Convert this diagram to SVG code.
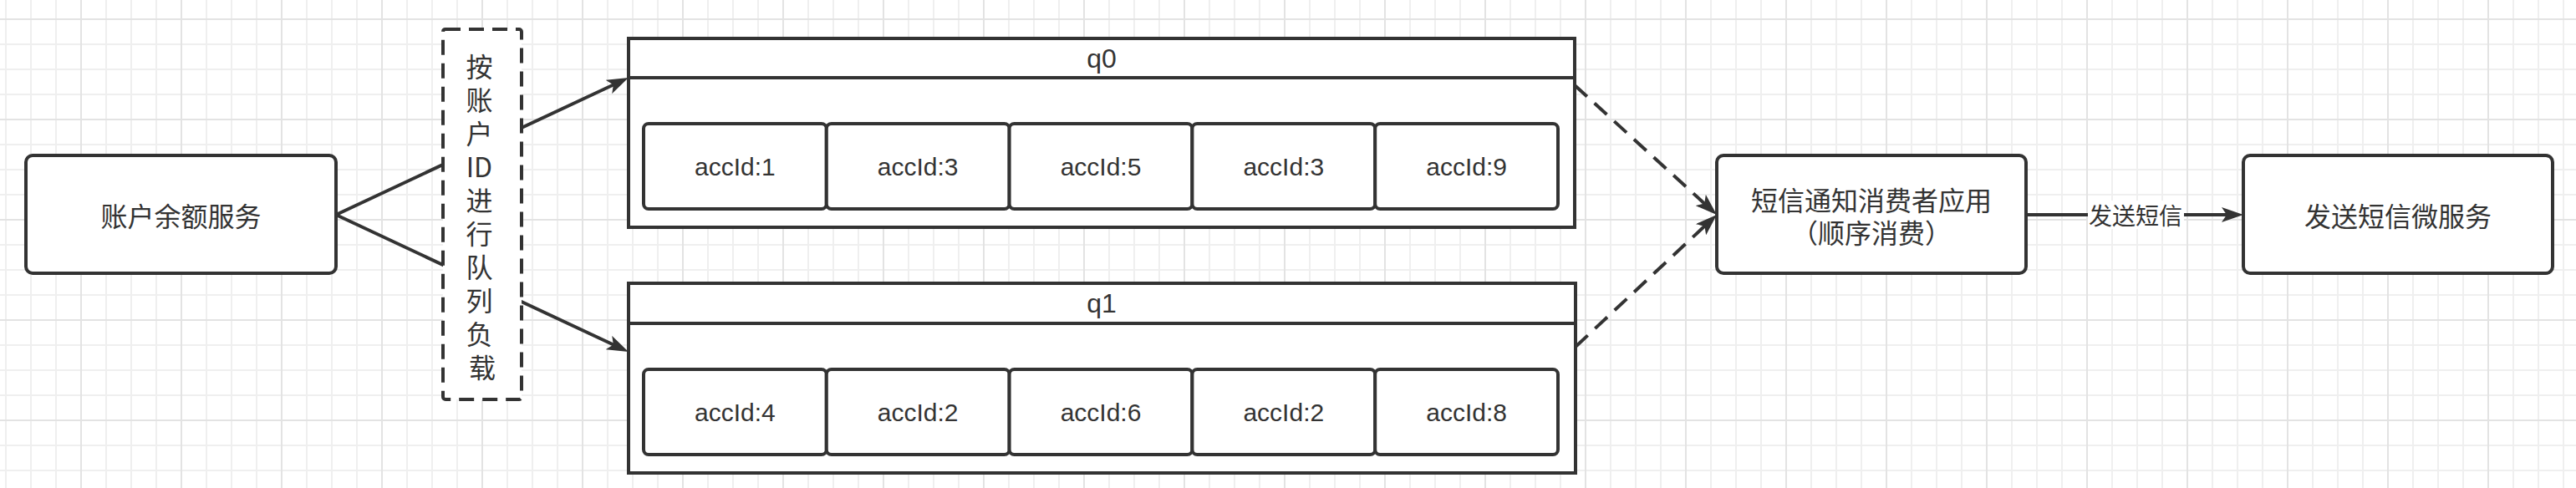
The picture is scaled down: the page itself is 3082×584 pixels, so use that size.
<svg xmlns="http://www.w3.org/2000/svg" width="3082" height="584" viewBox="0 0 3082 584">
<style>
.box{fill:#fff;stroke:#333;stroke-width:4}
.item{fill:#fff;stroke:#333;stroke-width:4}
.line{fill:none;stroke:#333;stroke-width:4}
.dash{stroke-dasharray:20 12}
.cjk{font-family:"Noto Sans CJK SC","Noto Sans",sans-serif;fill:#333;text-anchor:middle;dominant-baseline:central}
.lat{font-family:"Liberation Sans",Arial,sans-serif;fill:#333;text-anchor:middle;dominant-baseline:central}
</style>
<defs>
<pattern id="minor" patternUnits="userSpaceOnUse" x="6" y="22" width="30" height="30">
<rect x="0" y="0" width="2" height="30" fill="#efefef"/>
<rect x="0" y="0" width="30" height="2" fill="#efefef"/>
</pattern>
<pattern id="major" patternUnits="userSpaceOnUse" x="96" y="22" width="120" height="120">
<rect x="0" y="0" width="2" height="120" fill="#e3e3e3"/>
<rect x="0" y="0" width="120" height="2" fill="#e3e3e3"/>
</pattern>
<marker id="arr" viewBox="0 0 26 18" refX="16" refY="9" markerWidth="26" markerHeight="18" markerUnits="userSpaceOnUse" orient="auto">
<path d="M0,0 L26,9 L0,18 L6,9 Z" fill="#333"/>
</marker>
</defs>
<rect width="3082" height="584" fill="#fff"/>
<rect width="3082" height="584" fill="url(#minor)"/>
<rect width="3082" height="584" fill="url(#major)"/>

<g id="connectors">
<path class="line" d="M402,257 L742.9,97.2" marker-end="url(#arr)"/>
<path class="line" d="M402,257 L742.9,416.8" marker-end="url(#arr)"/>
<path class="line dash" d="M1884,102 L2046.6,250.3" marker-end="url(#arr)"/>
<path class="line dash" d="M1885,415 L2046.7,263.8" marker-end="url(#arr)"/>
<path class="line" d="M2424,257 L2674,257" marker-end="url(#arr)"/>
<rect x="2498" y="240" width="115" height="34" fill="#fff"/>
<text class="cjk" x="2555" y="257" font-size="28">发送短信</text>
</g>

<g id="account-service">
<rect class="box" x="31" y="186" width="371" height="141" rx="8"/>
<text class="cjk" x="216.5" y="256.5" font-size="32">账户余额服务</text>
</g>

<g id="load-balance">
<rect x="530" y="35" width="94" height="443" rx="3" fill="#fff" stroke="#333" stroke-width="4" stroke-dasharray="18 10"/>
<text class="cjk" font-size="32">
<tspan x="577" y="78">按</tspan>
<tspan x="577" y="118">账</tspan>
<tspan x="577" y="158">户</tspan>
<tspan x="577" y="198">ID</tspan>
<tspan x="577" y="238">进</tspan>
<tspan x="577" y="278">行</tspan>
<tspan x="577" y="318">队</tspan>
<tspan x="577" y="358">列</tspan>
<tspan x="577" y="398">负</tspan>
<tspan x="577" y="438">载</tspan>
</text>
</g>

<g id="q0">
<rect class="box" x="752" y="46" width="1132" height="226"/>
<line class="line" x1="752" y1="93" x2="1884" y2="93"/>
<text class="lat" x="1318" y="69.5" font-size="32">q0</text>
<rect class="item" x="770" y="148" width="218.8" height="102" rx="6"/>
<rect class="item" x="988.8" y="148" width="218.8" height="102" rx="6"/>
<rect class="item" x="1207.6" y="148" width="218.8" height="102" rx="6"/>
<rect class="item" x="1426.4" y="148" width="218.8" height="102" rx="6"/>
<rect class="item" x="1645.2" y="148" width="218.8" height="102" rx="6"/>
<text class="lat" x="879.4" y="199" font-size="30">accId:1</text>
<text class="lat" x="1098.2" y="199" font-size="30">accId:3</text>
<text class="lat" x="1317" y="199" font-size="30">accId:5</text>
<text class="lat" x="1535.8" y="199" font-size="30">accId:3</text>
<text class="lat" x="1754.6" y="199" font-size="30">accId:9</text>
</g>

<g id="q1">
<rect class="box" x="752" y="339" width="1133" height="227"/>
<line class="line" x1="752" y1="387" x2="1885" y2="387"/>
<text class="lat" x="1318" y="363" font-size="32">q1</text>
<rect class="item" x="770" y="442" width="218.8" height="102" rx="6"/>
<rect class="item" x="988.8" y="442" width="218.8" height="102" rx="6"/>
<rect class="item" x="1207.6" y="442" width="218.8" height="102" rx="6"/>
<rect class="item" x="1426.4" y="442" width="218.8" height="102" rx="6"/>
<rect class="item" x="1645.2" y="442" width="218.8" height="102" rx="6"/>
<text class="lat" x="879.4" y="493" font-size="30">accId:4</text>
<text class="lat" x="1098.2" y="493" font-size="30">accId:2</text>
<text class="lat" x="1317" y="493" font-size="30">accId:6</text>
<text class="lat" x="1535.8" y="493" font-size="30">accId:2</text>
<text class="lat" x="1754.6" y="493" font-size="30">accId:8</text>
</g>

<g id="sms-consumer">
<rect class="box" x="2054" y="186" width="370" height="141" rx="8"/>
<text class="cjk" x="2239" y="237.5" font-size="32">短信通知消费者应用</text>
<text class="cjk" x="2239" y="276.5" font-size="32">（顺序消费）</text>
</g>

<g id="sms-service">
<rect class="box" x="2684" y="186" width="370" height="141" rx="8"/>
<text class="cjk" x="2869" y="256.5" font-size="32">发送短信微服务</text>
</g>
</svg>
